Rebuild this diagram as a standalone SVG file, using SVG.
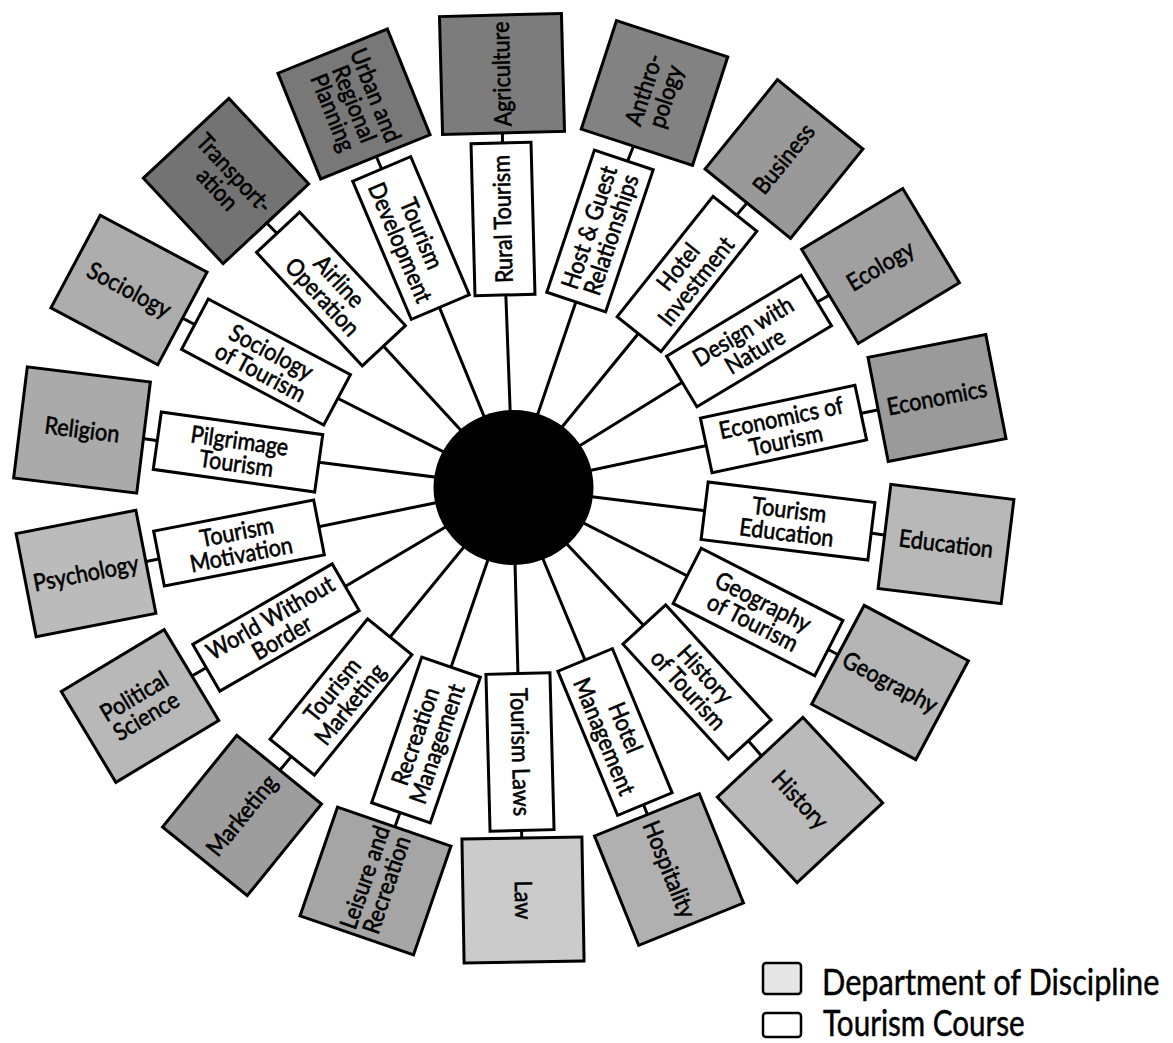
<svg xmlns="http://www.w3.org/2000/svg" width="1173" height="1043" viewBox="0 0 1173 1043">
<style>
.bg{fill:#fff}
.conn{fill:none;stroke:#000;stroke-width:3}
.box{fill:#fff;stroke:#000;stroke-width:3}
.dept{stroke:#000;stroke-width:3}
.t{font-family:Lato,"Liberation Sans",sans-serif;font-size:24px;text-anchor:middle;fill:#000;stroke:#000;stroke-width:0.6}
.lg{font-family:Lato,"Liberation Sans",sans-serif;font-size:37px;fill:#000;stroke:#000;stroke-width:0.5}
</style>
<rect class="bg" x="0" y="0" width="1173" height="1043"/>
<g id="connectors">
<polyline class="conn" points="513,487 503,219 502,74"/>
<polyline class="conn" points="513,487 600,231 654.5,93"/>
<polyline class="conn" points="513,487 687,274 784,159"/>
<polyline class="conn" points="513,487 749,341 880.5,266"/>
<polyline class="conn" points="513,487 783.5,429 937,398"/>
<polyline class="conn" points="513,487 788,521 946,544"/>
<polyline class="conn" points="513,487 758,612 890,682.5"/>
<polyline class="conn" points="513,487 697,682 800,800"/>
<polyline class="conn" points="513,487 615,732 669,869.5"/>
<polyline class="conn" points="513,487 520,752 523,900"/>
<polyline class="conn" points="513,487 426,740 375.5,881"/>
<polyline class="conn" points="513,487 341,697 242,815.5"/>
<polyline class="conn" points="513,487 276,627.5 140,706"/>
<polyline class="conn" points="513,487 239,543 86,573.5"/>
<polyline class="conn" points="513,487 238,452 82,430"/>
<polyline class="conn" points="513,487 266,362 129,290"/>
<polyline class="conn" points="513,487 331,289 226,181"/>
<polyline class="conn" points="513,487 411,238 354,104"/>
</g>
<g id="hub"><ellipse cx="513.5" cy="487.5" rx="80" ry="77.5" fill="#000"/></g>

<g id="course-rural-tourism" transform="translate(503 219) rotate(-91.5)"><rect class="box" x="-76" y="-30" width="152" height="60"/><text class="t" transform="scale(0.9 1)"><tspan x="0" y="8">Rural Tourism</tspan></text></g>
<g id="course-host-guest" transform="translate(600 231) rotate(-71.5)"><rect class="box" x="-75" y="-31" width="150" height="62"/><text class="t" transform="scale(0.9 1)"><tspan x="0" y="-3">Host &amp; Guest</tspan><tspan x="0" y="20">Relationships</tspan></text></g>
<g id="course-hotel-investment" transform="translate(687 274) rotate(-51.5)"><rect class="box" x="-77" y="-28" width="154" height="56"/><text class="t" transform="scale(0.9 1)"><tspan x="0" y="-3">Hotel</tspan><tspan x="0" y="20">Investment</tspan></text></g>
<g id="course-design-nature" transform="translate(749 341) rotate(-31)"><rect class="box" x="-78.5" y="-29.5" width="157" height="59"/><text class="t" transform="scale(0.9 1)"><tspan x="0" y="-3">Design with</tspan><tspan x="0" y="20">Nature</tspan></text></g>
<g id="course-economics" transform="translate(783.5 429) rotate(-12)"><rect class="box" x="-79" y="-28" width="158" height="56"/><text class="t" transform="scale(0.9 1)"><tspan x="0" y="-3">Economics of</tspan><tspan x="0" y="20">Tourism</tspan></text></g>
<g id="course-education" transform="translate(788 521) rotate(7)"><rect class="box" x="-84" y="-29" width="168" height="58"/><text class="t" transform="scale(0.9 1)"><tspan x="0" y="-3">Tourism</tspan><tspan x="0" y="20">Education</tspan></text></g>
<g id="course-geography" transform="translate(758 612) rotate(27)"><rect class="box" x="-79.5" y="-31" width="159" height="62"/><text class="t" transform="scale(0.9 1)"><tspan x="0" y="-3">Geography</tspan><tspan x="0" y="20">of Tourism</tspan></text></g>
<g id="course-history" transform="translate(697 682) rotate(47.5)"><rect class="box" x="-78" y="-29" width="156" height="58"/><text class="t" transform="scale(0.9 1)"><tspan x="0" y="-3">History</tspan><tspan x="0" y="20">of Tourism</tspan></text></g>
<g id="course-hotel-management" transform="translate(615 732) rotate(67.5)"><rect class="box" x="-78" y="-29.5" width="156" height="59"/><text class="t" transform="scale(0.9 1)"><tspan x="0" y="-3">Hotel</tspan><tspan x="0" y="20">Management</tspan></text></g>
<g id="course-tourism-laws" transform="translate(520 752) rotate(88.5)"><rect class="box" x="-78.5" y="-32" width="157" height="64"/><text class="t" transform="scale(0.9 1)"><tspan x="0" y="8">Tourism Laws</tspan></text></g>
<g id="course-recreation" transform="translate(426 740) rotate(-71)"><rect class="box" x="-77" y="-31" width="154" height="62"/><text class="t" transform="scale(0.9 1)"><tspan x="0" y="-3">Recreation</tspan><tspan x="0" y="20">Management</tspan></text></g>
<g id="course-marketing" transform="translate(341 697) rotate(-51)"><rect class="box" x="-77.5" y="-28.5" width="155" height="57"/><text class="t" transform="scale(0.9 1)"><tspan x="0" y="-3">Tourism</tspan><tspan x="0" y="20">Marketing</tspan></text></g>
<g id="course-world" transform="translate(276 627.5) rotate(-30)"><rect class="box" x="-80.5" y="-27" width="161" height="54"/><text class="t" transform="scale(0.9 1)"><tspan x="0" y="-3">World Without</tspan><tspan x="0" y="20">Border</tspan></text></g>
<g id="course-motivation" transform="translate(239 543) rotate(-11)"><rect class="box" x="-81.5" y="-28" width="163" height="56"/><text class="t" transform="scale(0.9 1)"><tspan x="0" y="-3">Tourism</tspan><tspan x="0" y="20">Motivation</tspan></text></g>
<g id="course-pilgrimage" transform="translate(238 452) rotate(8)"><rect class="box" x="-81.5" y="-29" width="163" height="58"/><text class="t" transform="scale(0.9 1)"><tspan x="0" y="-3">Pilgrimage</tspan><tspan x="0" y="20">Tourism</tspan></text></g>
<g id="course-sociology" transform="translate(266 362) rotate(28)"><rect class="box" x="-80.5" y="-28.5" width="161" height="57"/><text class="t" transform="scale(0.9 1)"><tspan x="0" y="-3">Sociology</tspan><tspan x="0" y="20">of Tourism</tspan></text></g>
<g id="course-airline" transform="translate(331 289) rotate(47)"><rect class="box" x="-77.5" y="-29.5" width="155" height="59"/><text class="t" transform="scale(0.9 1)"><tspan x="0" y="-3">Airline</tspan><tspan x="0" y="20">Operation</tspan></text></g>
<g id="course-development" transform="translate(411 238) rotate(67)"><rect class="box" x="-75" y="-31.5" width="150" height="63"/><text class="t" transform="scale(0.9 1)"><tspan x="0" y="-3">Tourism</tspan><tspan x="0" y="20">Development</tspan></text></g>

<g id="dept-agriculture" transform="translate(502 74) rotate(-91.5)"><rect class="dept" fill="#7c7c7c" x="-59" y="-61" width="118" height="122"/><text class="t" transform="scale(0.9 1)"><tspan x="0" y="8">Agriculture</tspan></text></g>
<g id="dept-anthropology" transform="translate(654.5 93) rotate(-72)"><rect class="dept" fill="#828282" x="-57" y="-58.5" width="114" height="117"/><text class="t" transform="scale(0.9 1)"><tspan x="0" y="-3">Anthro-</tspan><tspan x="0" y="20">pology</tspan></text></g>
<g id="dept-business" transform="translate(784 159) rotate(-51)"><rect class="dept" fill="#999999" x="-57.5" y="-55" width="115" height="110"/><text class="t" transform="scale(0.9 1)"><tspan x="0" y="8">Business</tspan></text></g>
<g id="dept-ecology" transform="translate(880.5 266) rotate(-31)"><rect class="dept" fill="#a0a0a0" x="-59" y="-55" width="118" height="110"/><text class="t" transform="scale(0.9 1)"><tspan x="0" y="8">Ecology</tspan></text></g>
<g id="dept-economics" transform="translate(937 398) rotate(-11)"><rect class="dept" fill="#9a9a9a" x="-60" y="-53" width="120" height="106"/><text class="t" transform="scale(0.9 1)"><tspan x="0" y="8">Economics</tspan></text></g>
<g id="dept-education" transform="translate(946 544) rotate(7)"><rect class="dept" fill="#b8b8b8" x="-62" y="-52.5" width="124" height="105"/><text class="t" transform="scale(0.9 1)"><tspan x="0" y="8">Education</tspan></text></g>
<g id="dept-geography" transform="translate(890 682.5) rotate(28)"><rect class="dept" fill="#b5b5b5" x="-59" y="-56" width="118" height="112"/><text class="t" transform="scale(0.9 1)"><tspan x="0" y="8">Geography</tspan></text></g>
<g id="dept-history" transform="translate(800 800) rotate(47)"><rect class="dept" fill="#bababa" x="-58.5" y="-58.5" width="117" height="117"/><text class="t" transform="scale(0.9 1)"><tspan x="0" y="8">History</tspan></text></g>
<g id="dept-hospitality" transform="translate(669 869.5) rotate(68)"><rect class="dept" fill="#b0b0b0" x="-59" y="-56.5" width="118" height="113"/><text class="t" transform="scale(0.9 1)"><tspan x="0" y="8">Hospitality</tspan></text></g>
<g id="dept-law" transform="translate(523 900) rotate(89)"><rect class="dept" fill="#cbcbcb" x="-62" y="-60" width="124" height="120"/><text class="t" transform="scale(0.9 1)"><tspan x="0" y="8">Law</tspan></text></g>
<g id="dept-leisure" transform="translate(375.5 881) rotate(-71)"><rect class="dept" fill="#a5a5a5" x="-57.5" y="-60" width="115" height="120"/><text class="t" transform="scale(0.9 1)"><tspan x="0" y="-3">Leisure and</tspan><tspan x="0" y="20">Recreation</tspan></text></g>
<g id="dept-marketing" transform="translate(242 815.5) rotate(-51)"><rect class="dept" fill="#9d9d9d" x="-59" y="-54.5" width="118" height="109"/><text class="t" transform="scale(0.9 1)"><tspan x="0" y="8">Marketing</tspan></text></g>
<g id="dept-political-science" transform="translate(140 706) rotate(-31)"><rect class="dept" fill="#b8b8b8" x="-60" y="-53" width="120" height="106"/><text class="t" transform="scale(0.9 1)"><tspan x="0" y="-3">Political</tspan><tspan x="0" y="20">Science</tspan></text></g>
<g id="dept-psychology" transform="translate(86 573.5) rotate(-11)"><rect class="dept" fill="#bbbbbb" x="-61" y="-52.5" width="122" height="105"/><text class="t" transform="scale(0.9 1)"><tspan x="0" y="8">Psychology</tspan></text></g>
<g id="dept-religion" transform="translate(82 430) rotate(7)"><rect class="dept" fill="#aaaaaa" x="-62" y="-56" width="124" height="112"/><text class="t" transform="scale(0.9 1)"><tspan x="0" y="8">Religion</tspan></text></g>
<g id="dept-sociology" transform="translate(129 290) rotate(28)"><rect class="dept" fill="#adadad" x="-60.5" y="-52.5" width="121" height="105"/><text class="t" transform="scale(0.9 1)"><tspan x="0" y="8">Sociology</tspan></text></g>
<g id="dept-transportation" transform="translate(226 181) rotate(47)"><rect class="dept" fill="#737373" x="-58.5" y="-58.5" width="117" height="117"/><text class="t" transform="scale(0.9 1)"><tspan x="0" y="-3">Transport-</tspan><tspan x="0" y="20">ation</tspan></text></g>
<g id="dept-urban" transform="translate(354 104) rotate(68)"><rect class="dept" fill="#787878" x="-57" y="-59" width="114" height="118"/><text class="t" transform="scale(0.9 1)"><tspan x="0" y="-15">Urban and</tspan><tspan x="0" y="8">Regional</tspan><tspan x="0" y="31">Planning</tspan></text></g>

<g id="legend">
<rect x="763" y="963" width="38" height="31" rx="3" fill="#e6e6e6" stroke="#000" stroke-width="2.5"/>
<text class="lg" transform="translate(822 995) scale(0.83 1)" x="0" y="0">Department of Discipline</text>
<rect x="763" y="1013" width="38" height="24" rx="3" fill="#fff" stroke="#000" stroke-width="2.5"/>
<text class="lg" transform="translate(823 1036) scale(0.8 1)" x="0" y="0">Tourism Course</text>
</g>
</svg>
